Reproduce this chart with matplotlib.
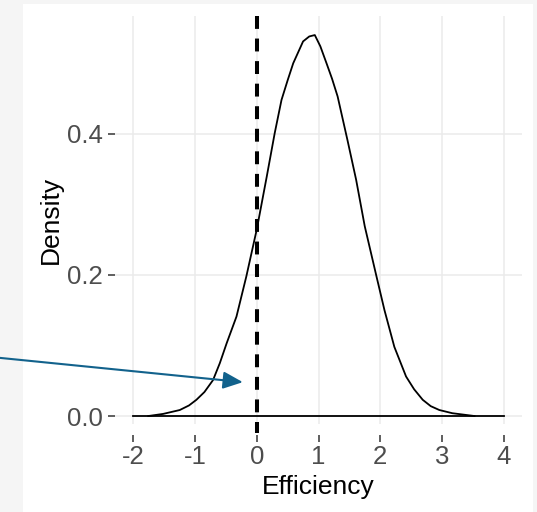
import matplotlib.pyplot as plt
from matplotlib.patches import Rectangle

plt.rcParams["font.family"] = ["Liberation Sans", "DejaVu Sans"]

# density curve
eff = [-1.76, -1.52, -1.25, -1.10, -0.98, -0.85, -0.71, -0.60, -0.49, -0.33,
       -0.17, 0.0, 0.16, 0.29, 0.40, 0.50, 0.59, 0.75, 0.85, 0.94,
       1.03, 1.13, 1.22, 1.31, 1.47, 1.61, 1.75, 1.94, 2.07, 2.23,
       2.42, 2.55, 2.69, 2.82, 2.96, 3.17, 3.53]
dens = [0.0, 0.003, 0.0085, 0.015, 0.023, 0.034, 0.051, 0.075, 0.103, 0.141,
        0.198, 0.265, 0.339, 0.401, 0.448, 0.476, 0.500, 0.531, 0.538, 0.540,
        0.524, 0.500, 0.478, 0.453, 0.391, 0.335, 0.269, 0.198, 0.150, 0.098,
        0.056, 0.038, 0.023, 0.014, 0.0085, 0.004, 0.0]
base_x = [-2, 4]
xticks = [-2, -1, 0, 1, 2, 3, 4]
yticks = [0.0, 0.2, 0.4]
ylabels = ["0.0", "0.2", "0.4"]
ARROW_TIP = (-0.227, 0.048)
ARROW_COLOR = "#12628c"

fig = plt.figure(figsize=(5.37, 5.12), dpi=100, facecolor="#f5f5f5")
# white slide area on the gray background
fig.patches.append(Rectangle((23 / 537, 0), 510 / 537, 508 / 512,
                             transform=fig.transFigure, facecolor="white",
                             edgecolor="none", zorder=-10))
ax = fig.add_axes([115 / 537, 1 - 424 / 512, 407 / 537, 408 / 512])
ax.set_facecolor("white")

ax.plot(eff, dens, color="black", lw=1.3, zorder=3)
ax.plot(base_x, [0, 0], color="black", lw=1.3, zorder=3)
ax.plot([0, 0], [0.567, -0.024], color="black", lw=2.9,
        linestyle=(0, (3.2, 2.4)), clip_on=False, zorder=4)

ax.annotate("", xy=ARROW_TIP, xycoords="data",
            xytext=(0.0, 0.301), textcoords="figure fraction",
            arrowprops=dict(arrowstyle="-|>,head_length=0.8,head_width=0.35",
                            mutation_scale=15, color=ARROW_COLOR, lw=1.5,
                            shrinkA=0, shrinkB=0),
            annotation_clip=False, zorder=5)

ax.set_xlim(-2.3, 4.3)
ax.set_ylim(-0.0113, 0.567)
ax.set_xticks(xticks)
ax.set_xticklabels([str(t) for t in xticks])
ax.set_yticks(yticks)
ax.set_yticklabels(ylabels)
ax.grid(True, color="#ebebeb", lw=1.1, zorder=0)
ax.set_axisbelow(True)
for s in ax.spines.values():
    s.set_visible(False)
ax.spines["bottom"].set_position(("outward", 7.9))
ax.tick_params(axis="x", length=5, width=1.1, color="#333333",
               labelcolor="#4d4d4d", labelsize=18.5, pad=2.5)
ax.tick_params(axis="y", length=5, width=1.1, color="#333333",
               labelcolor="#4d4d4d", labelsize=18.5, pad=3.6)

ax.set_xlabel("Efficiency", fontsize=19, color="black")
ax.set_ylabel("Density", fontsize=19, color="black")
ax.xaxis.set_label_coords(0.5, -0.125)
ax.yaxis.set_label_coords(-0.129, 0.5)

fig.savefig("out.png", dpi=100, facecolor=fig.get_facecolor())
